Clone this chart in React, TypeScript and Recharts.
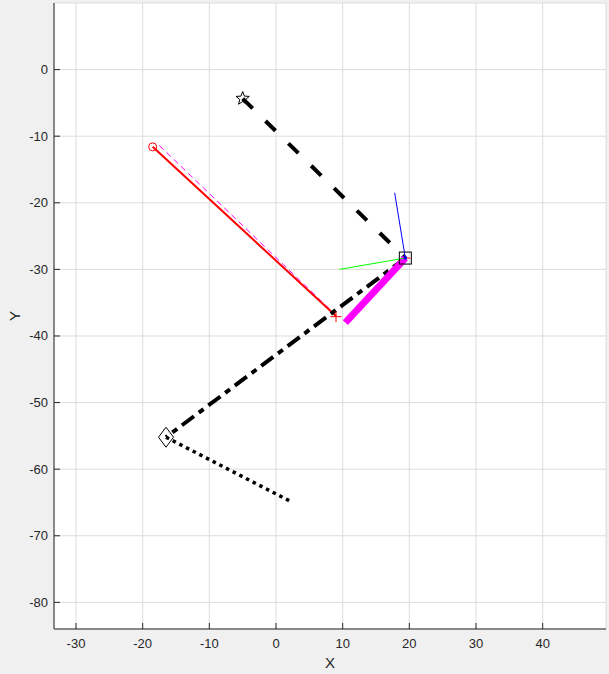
import React from 'react';
import { ComposedChart, Line, Scatter, XAxis, YAxis, CartesianGrid } from 'recharts';

// axis ticks
const xTicks = [-30, -20, -10, 0, 10, 20, 30, 40];
const yTicks = [-80, -70, -60, -50, -40, -30, -20, -10, 0];

// line segments (x, y in plot units)
const starToSquare = [{ x: -5.0, y: -4.35 }, { x: 19.4, y: -28.3 }];
const squareToDiamond = [{ x: 19.4, y: -28.3 }, { x: -16.5, y: -55.2 }];
const diamondTail = [{ x: -16.5, y: -55.2 }, { x: 2.1, y: -64.8 }];
const redSegment = [{ x: -18.5, y: -11.6 }, { x: 9.0, y: -37.0 }];
const magentaDashed = [{ x: -17.5, y: -11.4 }, { x: 8.4, y: -36.3 }];
const magentaThick = [{ x: 10.4, y: -38.0 }, { x: 19.4, y: -28.3 }];
const blueSegment = [{ x: 17.8, y: -18.5 }, { x: 19.4, y: -28.3 }];
const greenSegment = [{ x: 9.5, y: -30.0 }, { x: 19.4, y: -28.3 }];

// markers
const starMarker = [{ x: -5.0, y: -4.35 }];
const circleMarker = [{ x: -18.5, y: -11.6 }];
const plusMarker = [{ x: 9.0, y: -37.1 }];
const squareMarker = [{ x: 19.4, y: -28.3 }];
const diamondMarker = [{ x: -16.5, y: -55.2 }];

const FONT = '"Liberation Sans", Arial, Helvetica, sans-serif';
const AXIS_COLOR = '#262626';

const XTick = ({ x, y, payload }: any) => (
  <g>
    <line x1={x} x2={x} y1={y} y2={y - 6} stroke={AXIS_COLOR} strokeWidth={1} />
    <text x={x} y={y + 19} textAnchor="middle" fill={AXIS_COLOR} fontSize={13} fontFamily={FONT}>
      {payload.value}
    </text>
  </g>
);

const YTick = ({ x, y, payload }: any) => (
  <g>
    <line x1={x} x2={x + 6} y1={y} y2={y} stroke={AXIS_COLOR} strokeWidth={1} />
    <text x={x - 6} y={y + 4.5} textAnchor="end" fill={AXIS_COLOR} fontSize={13} fontFamily={FONT}>
      {payload.value}
    </text>
  </g>
);

const starPath = (cx: number, cy: number, ro: number, ri: number) => {
  let d = '';
  for (let i = 0; i < 10; i++) {
    const r = i % 2 === 0 ? ro : ri;
    const a = -Math.PI / 2 + (i * Math.PI) / 5;
    d += (i === 0 ? 'M' : 'L') + (cx + r * Math.cos(a)).toFixed(2) + ',' + (cy + r * Math.sin(a)).toFixed(2);
  }
  return d + 'Z';
};

const StarShape = ({ cx, cy }: any) => (
  <path d={starPath(cx, cy, 7, 3)} fill="none" stroke="#000" strokeWidth={1} />
);
const CircleShape = ({ cx, cy }: any) => (
  <circle cx={cx} cy={cy} r={4} fill="none" stroke="#ff0000" strokeWidth={1} />
);
const PlusShape = ({ cx, cy }: any) => (
  <path d={`M${cx - 5.5},${cy}H${cx + 5.5}M${cx},${cy - 5.5}V${cy + 5.5}`} stroke="#ff0000" strokeWidth={1} />
);
const SquareShape = ({ cx, cy }: any) => (
  <g>
    <rect x={cx - 6} y={cy - 6} width={12} height={12} fill="none" stroke="#000" strokeWidth={1} />
    <path d={`M${cx - 1},${cy}H${cx + 5}`} stroke="#ff0000" strokeWidth={1} />
    <circle cx={cx} cy={cy} r={1.8} fill="#0000ff" />
  </g>
);
const DiamondShape = ({ cx, cy }: any) => (
  <path d={`M${cx},${cy - 10}L${cx + 7.5},${cy}L${cx},${cy + 10}L${cx - 7.5},${cy}Z`} fill="none" stroke="#000" strokeWidth={1} />
);

export default function App() {
  return (
    <div style={{ width: 609, height: 674, background: '#f0f0f0' }}>
      <style>{'body{margin:0}'}</style>
      <ComposedChart width={609} height={674} margin={{ top: 3, right: 3, left: 0, bottom: 0 }}>
        <CartesianGrid stroke="#dcdcdc" fill="#ffffff" />
        <XAxis
          type="number"
          dataKey="x"
          domain={[-33.3, 49.5]}
          ticks={xTicks}
          allowDataOverflow
          height={45}
          stroke={AXIS_COLOR}
          tickLine={false}
          tickSize={0}
          tickMargin={0}
          tick={<XTick />}
          label={{
            content: ({ viewBox }: any) => (
              <text
                x={viewBox.x + viewBox.width / 2}
                y={viewBox.y + 39}
                textAnchor="middle"
                fill={AXIS_COLOR}
                fontSize={15}
                fontFamily={FONT}
              >
                X
              </text>
            ),
          }}
        />
        <YAxis
          type="number"
          dataKey="y"
          domain={[-84, 10]}
          ticks={yTicks}
          allowDataOverflow
          width={54}
          stroke={AXIS_COLOR}
          tickLine={false}
          tickSize={0}
          tickMargin={0}
          tick={<YTick />}
          label={{
            content: ({ viewBox }: any) => {
              const cx = 14;
              const cy = viewBox.y + viewBox.height / 2;
              return (
                <text
                  x={cx}
                  y={cy}
                  transform={`rotate(-90 ${cx} ${cy})`}
                  textAnchor="middle"
                  dominantBaseline="central"
                  fill={AXIS_COLOR}
                  fontSize={15}
                  fontFamily={FONT}
                >
                  Y
                </text>
              );
            },
          }}
        />
        <Line data={magentaDashed} dataKey="y" type="linear" stroke="#ff00ff" strokeWidth={1} strokeDasharray="6 4" dot={false} activeDot={false} isAnimationActive={false} />
        <Line data={redSegment} dataKey="y" type="linear" stroke="#ff0000" strokeWidth={2} dot={false} activeDot={false} isAnimationActive={false} />
        <Line data={starToSquare} dataKey="y" type="linear" stroke="#000000" strokeWidth={4} strokeDasharray="14 18" dot={false} activeDot={false} isAnimationActive={false} />
        <Line data={squareToDiamond} dataKey="y" type="linear" stroke="#000000" strokeWidth={4} strokeDasharray="15 6 6 6" dot={false} activeDot={false} isAnimationActive={false} />
        <Line data={diamondTail} dataKey="y" type="linear" stroke="#000000" strokeWidth={3.5} strokeDasharray="3.5 4" dot={false} activeDot={false} isAnimationActive={false} />
        <Line data={magentaThick} dataKey="y" type="linear" stroke="#ff00ff" strokeWidth={7} dot={false} activeDot={false} isAnimationActive={false} />
        <Line data={greenSegment} dataKey="y" type="linear" stroke="#00ff00" strokeWidth={1} dot={false} activeDot={false} isAnimationActive={false} />
        <Line data={blueSegment} dataKey="y" type="linear" stroke="#0000ff" strokeWidth={1} dot={false} activeDot={false} isAnimationActive={false} />
        <Scatter data={starMarker} dataKey="y" shape={<StarShape />} isAnimationActive={false} />
        <Scatter data={circleMarker} dataKey="y" shape={<CircleShape />} isAnimationActive={false} />
        <Scatter data={plusMarker} dataKey="y" shape={<PlusShape />} isAnimationActive={false} />
        <Scatter data={squareMarker} dataKey="y" shape={<SquareShape />} isAnimationActive={false} />
        <Scatter data={diamondMarker} dataKey="y" shape={<DiamondShape />} isAnimationActive={false} />
      </ComposedChart>
    </div>
  );
}
